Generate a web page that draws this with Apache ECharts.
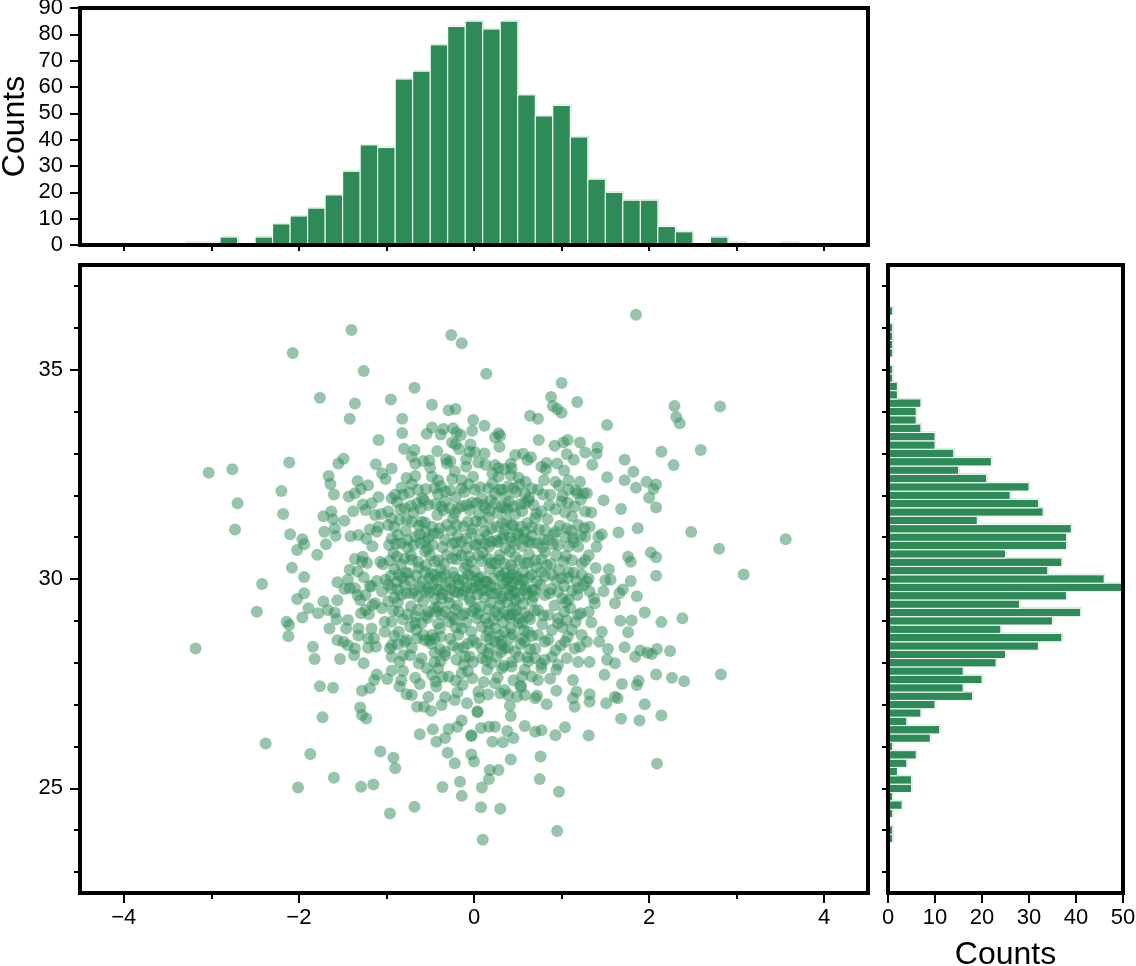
<!DOCTYPE html>
<html><head><meta charset="utf-8">
<script src="https://cdn.jsdelivr.net/npm/echarts@6/dist/echarts.min.js"></script>
<style>html,body{margin:0;padding:0;background:#fff}#c{width:1136px;height:966px}</style>
</head><body><div id="c"></div>
<script>
// ---------- data ----------
const scatterXTicks = [-4, -2, 0, 2, 4];
const scatterXMinor = [-4, -3, -2, -1, 0, 1, 2, 3, 4];
const scatterYTicks = [25, 30, 35];
const scatterYMinor = [23, 24, 25, 26, 27, 28, 29, 30, 31, 32, 33, 34, 35, 36, 37];
const histXTicks = [0, 10, 20, 30, 40, 50, 60, 70, 80, 90];
const histYTicks = [0, 10, 20, 30, 40, 50];

// top histogram (x values), bin width 0.2
const histXCenters = [-3.2,-3.0,-2.8,-2.6,-2.4,-2.2,-2.0,-1.8,-1.6,-1.4,-1.2,-1.0,-0.8,-0.6,-0.4,-0.2,0.0,0.2,0.4,0.6,0.8,1.0,1.2,1.4,1.6,1.8,2.0,2.2,2.4,2.6,2.8,3.0,3.2,3.4,3.6];
const histXCounts  = [1,1,3,0,3,8,11,14,19,28,38,37,63,66,76,83,85,82,85,57,49,53,41,25,20,17,17,7,5,0,3,1,0,0,1];

// right histogram (y values), bin width 0.2
const histYCenters = [23.8,24.0,24.2,24.4,24.6,24.8,25.0,25.2,25.4,25.6,25.8,26.0,26.2,26.4,26.6,26.8,27.0,27.2,27.4,27.6,27.8,28.0,28.2,28.4,28.6,28.8,29.0,29.2,29.4,29.6,29.8,30.0,30.2,30.4,30.6,30.8,31.0,31.2,31.4,31.6,31.8,32.0,32.2,32.4,32.6,32.8,33.0,33.2,33.4,33.6,33.8,34.0,34.2,34.4,34.6,34.8,35.0,35.2,35.4,35.6,35.8,36.0,36.2,36.4];
const histYCounts  = [1,1,0,1,3,1,5,5,2,4,6,1,9,11,4,7,10,18,16,20,16,23,25,32,37,24,35,41,28,38,50,46,34,37,25,38,38,39,19,33,32,26,30,21,15,22,14,10,10,7,6,6,7,2,2,1,1,0,1,1,1,1,0,1];

// scatter points [x, y]
const scatterPoints = [
[-1.40,35.95],[-2.07,35.40],[-1.26,34.97],[-1.76,34.33],[-1.36,34.19],[-0.95,34.29],[-1.42,33.83],[-1.09,33.32],[-1.49,32.87],[-1.55,32.76],
[-1.12,32.74],[-2.11,32.78],[-2.76,32.62],[-3.03,32.54],[-1.66,32.46],[-1.05,32.52],[-0.94,32.64],[-1.01,32.39],[-1.33,32.34],[-1.64,32.27],
[-0.26,35.83],[-0.14,35.63],[0.14,34.90],[1.00,34.68],[-0.68,34.57],[0.88,34.35],[1.18,34.23],[-0.48,34.16],[-0.29,34.03],[-0.21,34.06],
[0.90,34.13],[0.95,34.06],[1.00,33.97],[0.64,33.90],[0.73,33.83],[-0.82,33.83],[-0.01,33.80],[-0.48,33.62],[-0.54,33.47],[-0.82,33.49],
[-0.38,33.45],[-0.24,33.60],[-0.20,33.50],[-0.15,33.44],[-0.02,33.54],[0.28,33.48],[0.30,33.42],[0.24,33.38],[0.29,33.16],[-0.25,33.26],
[-0.21,33.22],[-0.17,33.10],[-0.04,33.21],[-0.05,33.04],[0.01,33.03],[0.12,33.00],[0.74,33.32],[0.92,33.18],[1.02,33.26],[1.07,33.32],
[1.21,33.26],[-0.80,33.11],[-0.68,33.08],[-0.71,32.92],[-0.67,32.75],[0.56,32.99],[0.65,32.91],[1.06,32.98],[1.27,33.02],[1.14,32.85],
[-0.51,32.83],[-0.50,32.66],[-0.32,32.86],[-0.27,32.81],[-0.31,32.76],[-0.09,32.86],[-0.09,32.68],[0.13,32.73],[0.24,32.72],[0.28,32.65],
[0.42,32.75],[0.43,32.64],[0.83,32.77],[0.77,32.68],[0.95,32.76],[0.82,32.62],[1.35,32.73],[-0.67,32.46],[-0.48,32.44],[-0.41,32.36],
[-0.25,32.39],[-0.14,32.36],[-0.01,32.44],[0.21,32.52],[0.28,32.44],[0.42,32.48],[0.51,32.42],[0.59,32.32],[0.80,32.36],[0.93,32.32],
[1.08,32.36],[1.21,32.32],
[1.85,36.31],[2.29,34.13],[2.81,34.12],[2.31,33.87],[2.35,33.72],[1.52,33.68],[1.41,33.14],[1.40,32.99],[2.14,33.04],[2.59,33.08],
[1.72,32.85],[2.28,32.72],[1.82,32.56],[1.52,32.43],[1.72,32.36],[1.97,32.32],[2.08,32.26],
[-2.20,32.10],[-2.70,31.81],[-2.18,31.55],[-2.73,31.18],[-1.60,32.02],[-1.29,32.15],[-1.36,32.05],[-1.09,31.96],[-1.17,31.81],[-1.24,31.65],
[-0.94,31.93],[-1.63,31.61],[-1.72,31.50],[-1.61,31.43],[-1.48,31.39],[-1.13,31.53],[-1.09,31.25],[-1.11,31.13],[-0.98,31.29],[-0.94,31.45],
[-1.71,31.13],[-1.59,31.21],[-1.58,31.03],[-1.32,31.05],[-2.10,31.07],[-1.96,30.95],[-1.94,30.83],[-2.02,30.69],[-1.69,30.83],[-1.79,30.58],
[-0.97,30.81],[-0.94,30.97],[-1.36,30.48],[-1.27,30.53],[-1.28,30.41],[-1.42,30.22],[-1.07,30.41],[-1.04,30.35],[-2.08,30.27],[-1.94,30.05],
[-2.42,29.88],[-1.56,29.92],[-1.48,29.76],[-1.42,29.78],[-1.33,29.62],[-1.30,29.50],[-1.17,29.82],[-1.01,29.98],[-0.98,29.86],[-1.05,29.70],
[-2.02,29.52],[-1.94,29.66],[-1.89,29.30],[-1.72,29.46],[-1.56,29.49],[-1.78,29.18],[-1.67,29.26],[-1.59,29.20],[-1.57,29.04],[-1.96,29.08],
[-2.48,29.22],[-2.14,28.98],[-2.11,28.90],[-2.12,28.63],[-1.44,29.02],[-1.32,28.82],[-1.24,29.26],[-1.20,29.16],[-1.13,29.42],[-1.05,29.30],
[-1.02,28.98],[-1.17,28.82],[-1.14,28.58],[-1.65,28.82],[-1.46,28.82],[-1.32,28.65],[-1.56,28.54],[-1.49,28.50],[-1.44,28.42],[-1.36,28.34],
[-1.21,28.36],[-0.96,28.34],[-1.84,28.38],[-1.82,28.09],[-1.53,28.09],[-1.26,27.99],[-3.18,28.34],[-0.94,28.14],
[1.85,32.18],[2.05,32.15],[2.00,31.94],[2.08,31.71],[1.48,31.88],[1.68,31.67],[1.29,32.05],[1.34,31.59],[1.32,31.25],[1.46,31.07],
[1.42,31.01],[1.65,31.11],[1.87,31.21],[2.48,31.12],[3.56,30.95],[2.80,30.72],[3.08,30.11],[1.40,30.77],[1.31,30.57],[1.76,30.53],
[1.79,30.41],[2.02,30.63],[2.08,30.52],[2.08,30.08],[1.39,30.26],[1.54,30.23],[1.50,29.97],[1.56,29.98],[1.79,29.95],[1.29,29.94],
[1.48,29.71],[1.70,29.75],[1.66,29.66],[1.86,29.59],[1.37,29.54],[1.38,29.42],[1.61,29.42],[1.31,29.22],[1.95,29.20],[1.34,28.96],
[1.67,29.00],[1.80,29.01],[2.14,28.97],[2.38,29.06],[1.46,28.74],[1.76,28.73],[1.29,28.50],[1.43,28.50],[1.53,28.33],[1.72,28.37],
[1.90,28.29],[1.98,28.24],[2.03,28.21],[2.09,28.33],[2.24,28.28],[1.84,28.14],[1.52,28.07],[1.61,27.99],[1.32,28.02],
[-1.37,28.18],[-1.11,27.72],[-1.14,27.59],[-1.19,27.39],[-1.28,27.33],[-0.99,27.61],[-0.94,27.81],[-1.76,27.44],[-1.61,27.40],[-1.73,26.70],
[-1.30,26.93],[-1.28,26.75],[-1.23,26.67],[-2.38,26.07],[-1.87,25.82],[-1.07,25.88],[-0.92,25.73],[-0.90,25.48],[-1.60,25.25],[-2.01,25.02],
[-1.29,25.04],[-1.15,25.09],[-0.96,24.40],
[-0.85,28.02],[-0.73,28.18],[-0.60,28.11],[-0.45,28.02],[-0.33,28.18],[-0.20,28.07],[-0.10,28.14],[-0.01,28.02],[0.09,28.11],[0.20,27.99],
[0.26,28.14],[0.43,28.02],[0.51,28.14],[0.70,28.11],[0.81,28.07],[0.89,28.14],[1.06,28.11],[1.19,28.02],[-0.81,27.80],[-0.85,27.43],
[-0.77,27.25],[-0.71,27.23],[-0.62,27.49],[-0.54,27.87],[-0.48,27.71],[-0.43,27.43],[-0.41,27.87],[-0.29,27.67],[-0.52,27.19],[-0.65,26.95],
[-0.57,26.95],[-0.49,26.85],[-0.37,26.99],[-0.22,27.11],[-0.19,27.29],[-0.13,27.47],[-0.14,27.75],[-0.07,27.80],[0.05,27.31],[0.06,27.16],
[0.04,26.82],[0.04,26.84],[0.24,27.51],[0.30,27.27],[0.35,27.35],[0.39,27.23],[0.53,27.45],[0.54,27.42],[0.58,27.23],[0.49,27.19],
[0.41,26.97],[0.42,26.73],[0.70,27.15],[0.73,27.59],[0.66,27.67],[0.83,27.01],[0.94,27.33],[1.13,27.59],[1.17,27.31],[1.13,27.15],
[1.15,26.95],[1.32,27.25],[1.32,27.07],[0.94,27.83],[0.96,27.95],[0.77,27.87],[0.58,27.83],[0.43,27.91],[0.32,27.87],[0.15,27.83],
[-0.62,26.29],[-0.43,26.11],[-0.33,26.20],[-0.29,26.42],[-0.19,26.47],[-0.03,26.27],[-0.03,26.25],[0.17,26.47],[0.24,26.47],[0.21,26.11],
[0.33,26.10],[0.45,26.20],[0.58,26.49],[0.70,26.35],[0.77,26.39],[0.93,26.27],[1.04,26.46],[1.31,26.26],[-0.30,25.85],[-0.22,25.60],
[-0.03,25.81],[0.00,25.64],[0.42,25.69],[0.76,25.76],[0.18,25.44],[0.28,25.44],[0.17,25.22],[0.75,25.22],[-0.16,25.16],[-0.36,25.03],
[0.09,25.02],[-0.14,24.82],[0.97,24.92],[-0.68,24.56],[0.08,24.55],[0.30,24.51],[0.95,23.98],[0.10,23.77],
[1.49,27.71],[1.69,27.49],[1.88,27.57],[1.86,27.47],[2.08,27.72],[2.26,27.64],[2.40,27.56],[2.82,27.72],[1.51,27.03],[1.61,27.19],
[1.64,27.15],[1.95,27.01],[2.14,26.74],[1.68,26.66],[1.89,26.62],[2.09,25.59],
[-0.90,32.01],[-0.81,32.01],[-0.64,32.13],[-0.45,32.17],[-0.33,32.09],[-0.14,32.17],[0.01,32.13],[0.16,32.17],[0.32,32.13],[0.45,32.17],
[0.58,32.05],[0.73,32.13],[0.87,32.01],[1.08,32.13],[1.25,32.05],
[-0.98,31.61],[-0.79,31.69],[-0.65,31.81],[-0.52,31.77],[-0.37,31.73],[-0.27,31.69],[-0.18,31.69],[-0.08,31.77],[0.03,31.81],[0.13,31.69],
[0.24,31.81],[0.35,31.69],[0.45,31.73],[0.58,31.81],[0.68,31.77],[0.77,31.61],[1.00,31.85],[1.15,31.73],[1.27,31.61],[1.12,31.49],
[-0.85,31.41],[-0.71,31.37],[-0.60,31.37],[-0.48,31.25],[-0.31,31.29],[-0.20,31.29],[-0.07,31.37],[0.09,31.37],[0.20,31.21],[0.32,31.33],
[0.43,31.29],[0.54,31.25],[0.70,31.45],[0.81,31.17],[0.93,31.13],[1.06,31.21],[1.19,31.29],
[-0.83,30.85],[-0.69,30.81],[-0.67,31.01],[-0.56,30.89],[-0.41,31.09],[-0.25,30.85],[-0.14,30.89],[0.01,30.81],[0.13,30.85],[0.20,30.89],
[0.32,30.97],[0.43,30.89],[0.51,31.05],[0.62,30.89],[0.73,30.85],[0.85,30.93],[0.96,30.81],[1.04,31.01],[1.19,30.77],[1.27,31.01],
[-0.88,30.53],[-0.79,30.49],[-0.64,30.41],[-0.50,30.57],[-0.41,30.45],[-0.25,30.49],[-0.14,30.57],[-0.03,30.41],[0.05,30.57],[0.16,30.49],
[0.24,30.37],[0.35,30.37],[0.47,30.53],[0.58,30.37],[0.70,30.45],[0.83,30.33],[0.94,30.57],[1.12,30.45],[1.23,30.37],
[-0.86,30.10],[-0.75,30.14],[-0.56,30.17],[-0.45,30.10],[-0.33,30.10],[-0.18,29.98],[-0.07,30.10],[0.05,30.02],[0.13,29.94],[0.28,30.17],
[0.43,30.10],[0.51,29.98],[0.66,30.10],[0.77,30.17],[0.89,30.10],[1.00,30.02],[1.08,30.17],[1.23,30.10],
[-0.94,29.78],[-0.83,29.62],[-0.71,29.66],[-0.56,29.70],[-0.43,29.74],[-0.37,29.54],[-0.22,29.70],[-0.14,29.62],[-0.03,29.78],[0.09,29.74],
[0.20,29.66],[0.33,29.58],[0.47,29.50],[0.58,29.74],[0.70,29.74],[0.81,29.62],[0.96,29.70],[1.08,29.50],[1.19,29.78],[1.32,29.70],
[-0.98,29.46],[-0.86,29.22],[-0.67,29.10],[-0.52,29.22],[-0.45,29.30],[-0.33,29.22],[-0.25,29.10],[-0.10,29.18],[0.01,29.30],[0.13,29.06],
[0.24,29.22],[0.39,29.14],[0.51,29.06],[0.62,29.10],[0.73,29.26],[0.85,29.14],[0.96,29.06],[1.10,29.30],[1.19,29.14],
[-1.02,28.74],[-0.86,28.74],[-0.73,28.86],[-0.60,28.94],[-0.48,28.66],[-0.39,28.82],[-0.29,28.98],[-0.14,28.82],[-0.03,28.74],[0.09,28.86],
[0.24,28.82],[0.35,28.74],[0.51,28.94],[0.62,28.74],[0.73,28.66],[0.89,28.78],[0.96,28.94],[1.12,28.78],[1.23,28.66],
[-0.94,28.42],[-0.79,28.50],[-0.65,28.58],[-0.56,28.54],[-0.45,28.58],[-0.33,28.26],[-0.18,28.34],[-0.07,28.46],[0.09,28.34],[0.24,28.50],
[0.35,28.34],[0.47,28.26],[0.58,28.50],[0.70,28.34],[0.81,28.50],[0.93,28.30],[1.04,28.50],[1.15,28.34]
];

// dense core: overlapping circles whose positions could only be estimated
const scatterCorePoints = [
[-0.35,33.58],[0.12,33.66],[-0.42,33.05],[0.47,32.96],[-0.58,32.82],[0.05,32.78],[0.61,32.84],[-0.22,32.57],[0.35,32.63],[1.03,32.59],[-0.77,32.41],
[-1.21,32.24],[-0.83,32.18],[-0.71,32.27],[-0.55,32.15],[-0.38,32.22],[-0.27,32.12],[-0.06,32.26],[0.07,32.19],[0.21,32.28],[0.29,32.14],[0.39,32.21],[0.52,32.25],[0.66,32.16],[0.97,32.23],[1.16,32.12],
[-1.43,31.97],[-0.74,32.06],[-0.59,31.93],[-0.41,32.03],[-0.21,31.95],[-0.11,32.08],[0.09,31.92],[0.24,32.04],[0.36,31.96],[0.48,32.07],[0.63,31.94],[0.79,32.02],[1.01,31.98],[1.18,32.05],
[-1.27,31.78],[-0.88,31.84],[-0.72,31.75],[-0.57,31.88],[-0.44,31.79],[-0.33,31.86],[-0.14,31.74],[-0.02,31.83],[0.11,31.77],[0.19,31.88],[0.31,31.72],[0.40,31.85],[0.53,31.79],[0.62,31.87],[0.86,31.76],[1.07,31.82],[1.22,31.89],
[-1.38,31.62],[-1.06,31.55],[-0.84,31.66],[-0.69,31.58],[-0.61,31.68],[-0.42,31.53],[-0.35,31.64],[-0.22,31.57],[-0.05,31.65],[0.06,31.54],[0.18,31.63],[0.27,31.58],[0.38,31.67],[0.47,31.55],[0.55,31.62],[0.71,31.56],[0.93,31.66],[1.04,31.59],
[-0.77,31.42],[-0.56,31.35],[-0.24,31.44],[0.02,31.38],[0.17,31.46],[0.37,31.41],[0.61,31.34],[0.84,31.43],
[-1.19,31.18],[-0.91,31.24],[-0.78,31.15],[-0.63,31.27],[-0.55,31.13],[-0.39,31.21],[-0.26,31.16],[-0.12,31.26],[-0.01,31.19],[0.12,31.14],[0.26,31.25],[0.36,31.17],[0.45,31.28],[0.58,31.12],[0.66,31.23],[0.74,31.18],[0.98,31.27],[1.11,31.15],[1.26,31.22],
[-1.41,31.02],[-1.23,30.96],[-0.87,31.05],[-0.76,30.93],[-0.62,31.07],[-0.52,30.98],[-0.46,31.08],[-0.33,30.94],[-0.19,31.03],[-0.09,30.97],[-0.03,31.09],[0.07,30.95],[0.15,31.04],[0.26,30.92],[0.34,31.06],[0.41,30.99],[0.49,31.08],[0.57,30.96],[0.66,31.03],[0.79,30.94],[0.91,31.06],[1.13,30.98],[1.22,31.04],
[-1.16,30.78],[-0.89,30.84],[-0.76,30.75],[-0.61,30.86],[-0.53,30.72],[-0.47,30.81],[-0.36,30.76],[-0.21,30.87],[-0.08,30.74],[0.03,30.83],[0.17,30.77],[0.27,30.88],[0.36,30.73],[0.47,30.82],[0.55,30.79],[0.66,30.86],[0.78,30.75],[0.90,30.83],[1.08,30.78],[1.14,30.88],
[-0.92,30.62],[-0.72,30.56],[-0.56,30.66],[-0.31,30.58],[-0.19,30.67],[-0.06,30.54],[0.10,30.63],[0.29,30.57],[0.41,30.65],[0.63,30.59],[0.81,30.64],[1.05,30.55],
[-1.22,30.38],[-0.96,30.44],[-0.83,30.35],[-0.71,30.46],[-0.55,30.33],[-0.45,30.42],[-0.34,30.36],[-0.20,30.47],[-0.08,30.34],[0.09,30.43],[0.20,30.38],[0.29,30.46],[0.42,30.32],[0.52,30.44],[0.62,30.39],[0.77,30.47],[0.88,30.36],[1.02,30.42],[1.27,30.45],
[-1.33,30.18],[-0.91,30.24],[-0.78,30.15],[-0.63,30.27],[-0.49,30.13],[-0.38,30.22],[-0.24,30.16],[-0.11,30.26],[0.01,30.19],[0.18,30.25],[0.35,30.14],[0.45,30.23],[0.56,30.17],[0.71,30.28],[0.97,30.21],[1.14,30.15],
[-1.44,29.98],[-1.26,30.04],[-1.11,29.95],[-0.95,30.07],[-0.88,29.93],[-0.82,30.03],[-0.73,29.96],[-0.66,30.08],[-0.59,29.94],[-0.51,30.02],[-0.42,29.97],[-0.37,30.06],[-0.28,29.92],[-0.22,30.04],[-0.12,29.99],[-0.04,30.07],[0.02,29.95],[0.09,30.05],[0.15,29.93],[0.22,30.01],[0.31,30.08],[0.37,29.96],[0.39,30.03],[0.44,29.92],[0.49,30.06],[0.56,29.98],[0.63,30.04],[0.72,29.94],[0.81,30.07],[0.94,29.97],[1.07,30.03],[1.17,29.95],[1.31,30.01],
[-1.36,29.78],[-1.19,29.84],[-0.87,29.75],[-0.79,29.86],[-0.68,29.73],[-0.62,29.82],[-0.53,29.77],[-0.47,29.88],[-0.39,29.74],[-0.32,29.83],[-0.26,29.76],[-0.17,29.87],[-0.11,29.72],[-0.08,29.81],[0.01,29.78],[0.06,29.86],[0.14,29.73],[0.19,29.84],[0.26,29.77],[0.33,29.88],[0.38,29.75],[0.42,29.82],[0.45,29.71],[0.53,29.85],[0.59,29.79],[0.67,29.74],[0.76,29.87],[0.88,29.76],[1.03,29.83],[1.12,29.72],[1.25,29.85],
[-1.24,29.62],[-0.91,29.55],[-0.77,29.66],[-0.64,29.58],[-0.51,29.67],[-0.45,29.53],[-0.36,29.64],[-0.29,29.57],[-0.18,29.68],[-0.05,29.54],[0.04,29.63],[0.12,29.56],[0.25,29.65],[0.31,29.52],[0.41,29.61],[0.47,29.67],[0.52,29.55],[0.61,29.64],[0.68,29.58],[0.86,29.66],[1.01,29.54],[1.18,29.62],
[-1.16,29.38],[-0.87,29.44],[-0.72,29.35],[-0.58,29.46],[-0.41,29.33],[-0.28,29.42],[-0.19,29.37],[-0.04,29.47],[0.07,29.34],[0.19,29.43],[0.29,29.36],[0.38,29.45],[0.45,29.32],[0.56,29.41],[0.66,29.48],[0.92,29.37],[1.05,29.44],
[-1.29,29.18],[-0.92,29.24],[-0.76,29.15],[-0.64,29.26],[-0.55,29.13],[-0.43,29.22],[-0.37,29.16],[-0.21,29.27],[-0.13,29.14],[-0.02,29.23],[0.05,29.17],[0.17,29.28],[0.28,29.12],[0.34,29.21],[0.44,29.15],[0.48,29.26],[0.57,29.19],[0.69,29.24],[0.79,29.13],[1.03,29.22],[1.22,29.18],
[-0.94,28.98],[-0.81,29.04],[-0.67,28.95],[-0.53,29.07],[-0.41,28.93],[-0.22,29.03],[-0.09,28.96],[0.03,29.06],[0.16,28.94],[0.22,29.02],[0.33,28.97],[0.41,29.08],[0.55,28.95],[0.64,29.04],[0.78,28.92],[1.06,29.01],[1.16,28.97],
[-0.66,28.78],[-0.21,28.84],[0.17,28.76],[0.42,28.83],[0.57,28.77],[1.01,28.85],
[-1.21,28.58],[-0.91,28.64],[-0.77,28.55],[-0.58,28.66],[-0.51,28.53],[-0.38,28.62],[-0.27,28.57],[-0.18,28.67],[-0.01,28.54],[0.14,28.63],[0.18,28.56],[0.29,28.65],[0.31,28.52],[0.42,28.61],[0.44,28.68],[0.55,28.57],[0.66,28.64],[0.85,28.55],[1.07,28.62],
[-1.12,28.38],[-0.87,28.44],[-0.71,28.35],[-0.49,28.46],[-0.39,28.33],[-0.24,28.42],[-0.12,28.37],[0.03,28.47],[0.18,28.34],[0.31,28.43],[0.39,28.36],[0.53,28.45],[0.64,28.32],[0.99,28.41],[1.21,28.38],
[-0.81,28.18],[-0.45,28.24],[-0.05,28.15],[0.31,28.26],[0.61,28.13],[0.16,28.22],
[-0.63,27.98],[-0.38,28.04],[-0.12,27.95],[0.14,28.06],[0.34,27.93],[0.62,28.03],[0.77,27.97],
[-0.83,27.58],[-0.67,27.64],[-0.44,27.55],[-0.36,27.66],[-0.21,27.57],[-0.02,27.63],[0.11,27.54],[0.27,27.65],[0.45,27.58],[0.55,27.67],[0.87,27.62],
[-0.33,27.18],[0.16,27.24],[0.72,27.21],[-0.08,27.03],[-0.14,26.62],[-0.47,26.41],[0.08,26.44],[0.38,26.37]
];

// ---------- style ----------
const GREEN = '#2E8B57';
const EDGE = '#bfe0cc';
const BIN = 0.2;
const FONT = '"Liberation Sans", Arial, Helvetica, sans-serif';
const TICK_FONT = 22;
const NAME_FONT = 32;
const frameLine = { show: true, onZero: false, lineStyle: { color: '#000', width: 4, cap: 'square' } };
const minus = v => String(v).replace('-', '\u2212');

function frameAxis(gridIndex, position, min, max) {
  return { type: 'value', gridIndex, position, min, max, z: 10,
    axisLine: frameLine, axisTick: { show: false }, axisLabel: { show: false }, splitLine: { show: false } };
}
function tickAxis(gridIndex, position, min, max, values, len, withLabels, margin) {
  return { type: 'value', gridIndex, position, min, max, z: 11,
    axisLine: { show: false, onZero: false },
    axisTick: { show: true, inside: false, length: len, customValues: values, lineStyle: { color: '#000', width: 2 } },
    axisLabel: withLabels ? { show: true, customValues: values, formatter: minus, color: '#000',
      fontSize: TICK_FONT, fontFamily: FONT, margin: margin } : { show: false },
    splitLine: { show: false } };
}

function barShape(p0, p1) {
  const x = p0[0], y = p1[1], w = p1[0] - p0[0], h = p0[1] - p1[1];
  return { type: 'group', children: [
    { type: 'rect', shape: { x: x + 1, y: y - 1, width: w, height: h }, style: { fill: EDGE } },
    { type: 'rect', shape: { x: x, y: y, width: w, height: h }, style: { fill: GREEN, stroke: '#fff', lineWidth: 1 } }
  ] };
}
function renderTop(params, api) {
  const c = api.value(0), n = api.value(1);
  if (!n) return null;
  return barShape(api.coord([c - BIN / 2, 0]), api.coord([c + BIN / 2, n]));
}
function renderRight(params, api) {
  const n = api.value(0), c = api.value(1);
  if (!n) return null;
  return barShape(api.coord([0, c - BIN / 2]), api.coord([n, c + BIN / 2]));
}

const nameStyle = { fontSize: NAME_FONT, fontFamily: FONT, color: '#000' };
const xAxes = [
  tickAxis(0, 'bottom', -4.5, 4.5, scatterXTicks, 10, true, 14),
  tickAxis(0, 'bottom', -4.5, 4.5, scatterXMinor, 6, false),
  frameAxis(0, 'bottom', -4.5, 4.5),
  frameAxis(0, 'top', -4.5, 4.5),
  tickAxis(1, 'bottom', -4.5, 4.5, scatterXMinor, 6, false),
  frameAxis(1, 'bottom', -4.5, 4.5),
  frameAxis(1, 'top', -4.5, 4.5),
  Object.assign(tickAxis(2, 'bottom', 0, 50, histYTicks, 10, true, 14), {
    name: 'Counts', nameLocation: 'middle', nameGap: 46, nameTextStyle: nameStyle }),
  frameAxis(2, 'bottom', 0, 50),
  frameAxis(2, 'top', 0, 50)
];
const yAxes = [
  tickAxis(0, 'left', 22.5, 37.5, scatterYTicks, 10, true, 17),
  tickAxis(0, 'left', 22.5, 37.5, scatterYMinor, 6, false),
  frameAxis(0, 'left', 22.5, 37.5),
  frameAxis(0, 'right', 22.5, 37.5),
  Object.assign(tickAxis(1, 'left', 0, 90, histXTicks, 10, true, 17), {
    name: 'Counts', nameLocation: 'middle', nameGap: 49, nameRotate: 90, nameMoveOverlap: false,
    nameTextStyle: nameStyle }),
  frameAxis(1, 'left', 0, 90),
  frameAxis(1, 'right', 0, 90),
  tickAxis(2, 'left', 22.5, 37.5, scatterYMinor, 6, false),
  frameAxis(2, 'left', 22.5, 37.5),
  frameAxis(2, 'right', 22.5, 37.5)
];

const gridBase = { containLabel: false, outerBoundsMode: 'none' };
const chart = echarts.init(document.getElementById('c'), null, { renderer: 'canvas' });
chart.setOption({
  animation: false,
  backgroundColor: '#fff',
  grid: [
    Object.assign({ left: 80, top: 265, width: 788, height: 628 }, gridBase),
    Object.assign({ left: 80, top: 8, width: 788, height: 237 }, gridBase),
    Object.assign({ left: 888, top: 265, width: 235, height: 628 }, gridBase)
  ],
  xAxis: xAxes,
  yAxis: yAxes,
  series: [
    { type: 'scatter', xAxisIndex: 0, yAxisIndex: 0, symbol: 'circle', symbolSize: 12,
      itemStyle: { color: GREEN, opacity: 0.5 }, data: scatterPoints.concat(scatterCorePoints), z: 2 },
    { type: 'custom', xAxisIndex: 4, yAxisIndex: 4, renderItem: renderTop,
      data: histXCenters.map((c, i) => [c, histXCounts[i]]), z: 2 },
    { type: 'custom', xAxisIndex: 7, yAxisIndex: 7, renderItem: renderRight,
      data: histYCenters.map((c, i) => [histYCounts[i], c]), z: 2 }
  ]
});
</script></body></html>
